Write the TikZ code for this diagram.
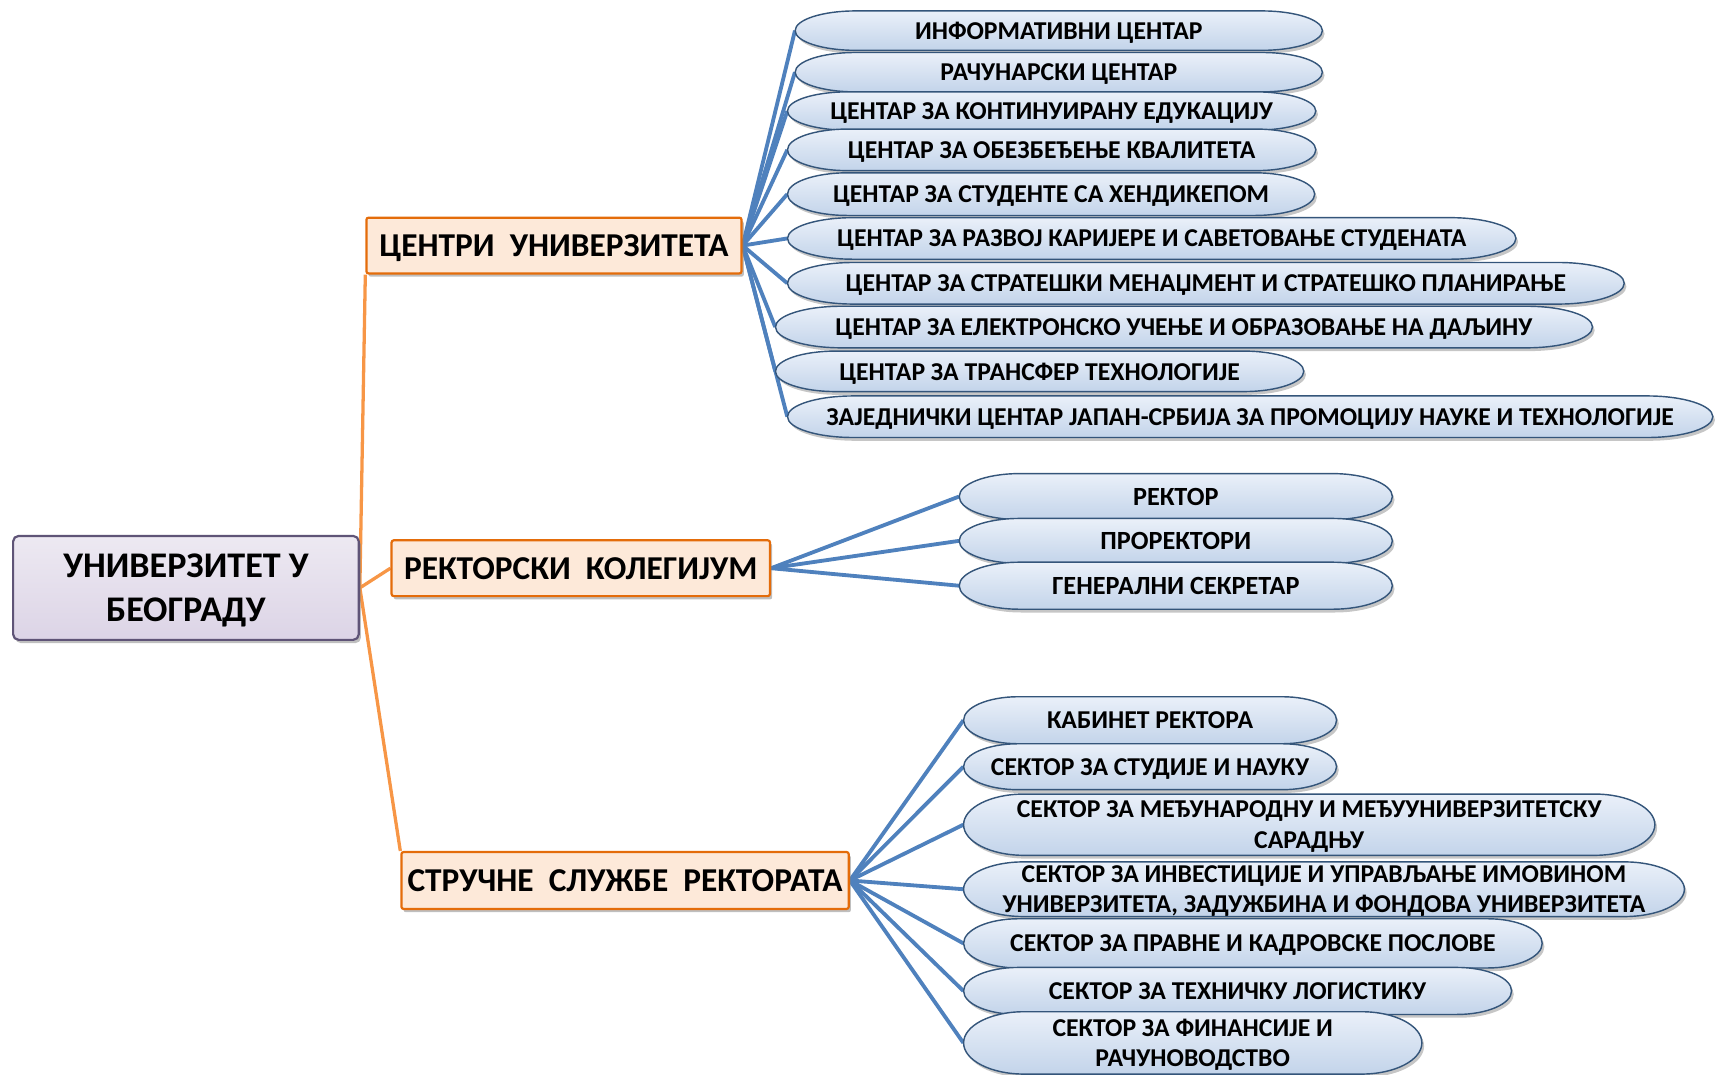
\documentclass[tikz,border=0pt]{standalone}
\usepackage{fontspec}
\setmainfont{Carlito}
\usetikzlibrary{shadows,backgrounds}
\definecolor{rootfillA}{HTML}{EDE9F2}
\definecolor{rootfillB}{HTML}{DCD4E6}
\definecolor{rootdraw}{HTML}{5F5477}
\definecolor{lfill}{HTML}{FDE9D9}
\definecolor{ldraw}{HTML}{E46C0A}
\definecolor{orangeline}{HTML}{F79646}
\definecolor{blueline}{HTML}{4F81BD}
\definecolor{pilltop}{HTML}{EAF0F9}
\definecolor{pillbot}{HTML}{C3D4EA}
\definecolor{pilldraw}{HTML}{34557A}
\tikzset{
  rootbox/.style={draw=rootdraw, line width=2pt, rounded corners=5pt,
    top color=rootfillA, bottom color=rootfillB,
    drop shadow={shadow xshift=2pt, shadow yshift=-3pt, opacity=0.5},
    align=center, inner sep=0pt, text depth=0pt,
    font=\bfseries\fontsize{33}{40}\selectfont},
  levelbox/.style={draw=ldraw, line width=2pt, rounded corners=2pt, fill=lfill,
    drop shadow={shadow xshift=2pt, shadow yshift=-3pt, opacity=0.5},
    align=center, inner sep=0pt, text depth=0pt,
    font=\bfseries\fontsize{30.5}{36}\selectfont},
  pillshape/.style={draw=pilldraw, line width=1.3pt, top color=pilltop, bottom color=pillbot,
    drop shadow={shadow xshift=2pt, shadow yshift=-3pt, opacity=0.45}},
  pilltext/.style={inner sep=0pt, align=center, text=black, text depth=0pt,
    font=\bfseries\fontsize{23.5}{28}\selectfont},
  pilltextB/.style={pilltext, font=\bfseries\fontsize{24}{28}\selectfont},
  orangeconn/.style={draw=orangeline, line width=3pt},
  blueconn/.style={draw=blueline, line width=3.5pt},
}
% name, cx, cy (down), width, height, text, end radius, text style
\newcommand\pill[8]{%
  \path[pillshape] ({#2-#4/2+#7},{-#3+#5/2}) -- ({#2+#4/2-#7},{-#3+#5/2})
    arc[start angle=90,end angle=-90,x radius=#7,y radius=#5/2]
    -- ({#2-#4/2+#7},{-#3-#5/2})
    arc[start angle=270,end angle=90,x radius=#7,y radius=#5/2] -- cycle;
  \node[#8, minimum width=#4pt, minimum height=#5pt] (#1) at (#2,-#3) {#6};
}
\begin{document}
\begin{tikzpicture}[x=1pt,y=1pt]
\useasboundingbox (0,0) rectangle (1568,-982);

\node[rootbox, minimum width=316pt, minimum height=95pt] (root) at (170,-537.5)
  {УНИВЕРЗИТЕТ У\\БЕОГРАДУ};

\node[levelbox, minimum width=343pt, minimum height=51pt] (L1) at (506.5,-224.5)
  {ЦЕНТРИ\ \ УНИВЕРЗИТЕТА};
\node[levelbox, minimum width=346pt, minimum height=51pt] (L2) at (531,-519.5)
  {РЕКТОРСКИ\ \ КОЛЕГИЈУМ};
\node[levelbox, minimum width=409pt, minimum height=52pt] (L3) at (571.5,-805)
  {СТРУЧНЕ\ \ СЛУЖБЕ\ \ РЕКТОРАТА};

% top group
\pill{a1}{968}{28}{482}{36}{ИНФОРМАТИВНИ ЦЕНТАР}{55}{pilltext}
\pill{a2}{968}{66}{482}{36}{РАЧУНАРСКИ ЦЕНТАР}{55}{pilltext}
\pill{a3}{961.5}{101.5}{483}{35}{ЦЕНТАР ЗА КОНТИНУИРАНУ ЕДУКАЦИЈУ}{55}{pilltext}
\pill{a4}{961.5}{137}{483}{38}{ЦЕНТАР ЗА ОБЕЗБЕЂЕЊЕ КВАЛИТЕТА}{55}{pilltext}
\pill{a5}{961}{177.5}{482}{39}{ЦЕНТАР ЗА СТУДЕНТЕ СА ХЕНДИКЕПОМ}{55}{pilltext}
\pill{a6}{1053}{218}{666}{38}{ЦЕНТАР ЗА РАЗВОЈ КАРИЈЕРЕ И САВЕТОВАЊЕ СТУДЕНАТА}{60}{pilltext}
\pill{a7}{1102.5}{259}{765}{38}{ЦЕНТАР ЗА СТРАТЕШКИ МЕНАЏМЕНТ И СТРАТЕШКО ПЛАНИРАЊЕ}{60}{pilltext}
\pill{a8}{1082.5}{299}{747}{38}{ЦЕНТАР ЗА ЕЛЕКТРОНСКО УЧЕЊЕ И ОБРАЗОВАЊЕ НА ДАЉИНУ}{60}{pilltext}
\pill{a9}{950.5}{339.5}{483}{37}{ЦЕНТАР ЗА ТРАНСФЕР ТЕХНОЛОГИЈЕ}{55}{pilltext}
\pill{a10}{1143}{381}{846}{38}{ЗАЈЕДНИЧКИ ЦЕНТАР ЈАПАН-СРБИЈА ЗА ПРОМОЦИЈУ НАУКЕ И ТЕХНОЛОГИЈЕ}{60}{pilltext}

% middle group
\pill{b1}{1075}{454}{396}{42}{РЕКТОР}{55}{pilltextB}
\pill{b2}{1075}{494.5}{396}{41}{ПРОРЕКТОРИ}{55}{pilltextB}
\pill{b3}{1075}{535.5}{396}{43}{ГЕНЕРАЛНИ СЕКРЕТАР}{55}{pilltextB}

% bottom group
\pill{s1}{1051.5}{658.5}{341}{43}{КАБИНЕТ РЕКТОРА}{50}{pilltext}
\pill{s2}{1051.5}{701}{341}{42}{СЕКТОР ЗА СТУДИЈЕ И НАУКУ}{50}{pilltext}
\pill{s3}{1197}{754}{632}{56}{СЕКТОР ЗА МЕЂУНАРОДНУ И МЕЂУУНИВЕРЗИТЕТСКУ\\САРАДЊУ}{55}{pilltext}
\pill{s4}{1210.5}{813}{659}{50}{СЕКТОР ЗА ИНВЕСТИЦИЈЕ И УПРАВЉАЊЕ ИМОВИНОМ\\УНИВЕРЗИТЕТА, ЗАДУЖБИНА И ФОНДОВА УНИВЕРЗИТЕТА}{55}{pilltext}
\pill{s5}{1145.5}{862.5}{529}{45}{СЕКТОР ЗА ПРАВНЕ И КАДРОВСКЕ ПОСЛОВЕ}{50}{pilltext}
\pill{s6}{1131.5}{906}{501}{43}{СЕКТОР ЗА ТЕХНИЧКУ ЛОГИСТИКУ}{50}{pilltext}
\pill{s7}{1090.5}{953.5}{419}{57}{СЕКТОР ЗА ФИНАНСИЈЕ И\\РАЧУНОВОДСТВО}{55}{pilltext}

\begin{pgfonlayer}{background}
  \draw[orangeconn] (root.east) -- (L1.south west);
  \draw[orangeconn] (root.east) -- (L2.west);
  \draw[orangeconn] (root.east) -- (L3.north west);
  \foreach \i in {1,...,10} \draw[blueconn] (L1.east) -- (a\i.west);
  \foreach \i in {1,2,3} \draw[blueconn] (L2.east) -- (b\i.west);
  \foreach \i in {1,...,7} \draw[blueconn] (L3.east) -- (s\i.west);
\end{pgfonlayer}
\end{tikzpicture}
\end{document}
